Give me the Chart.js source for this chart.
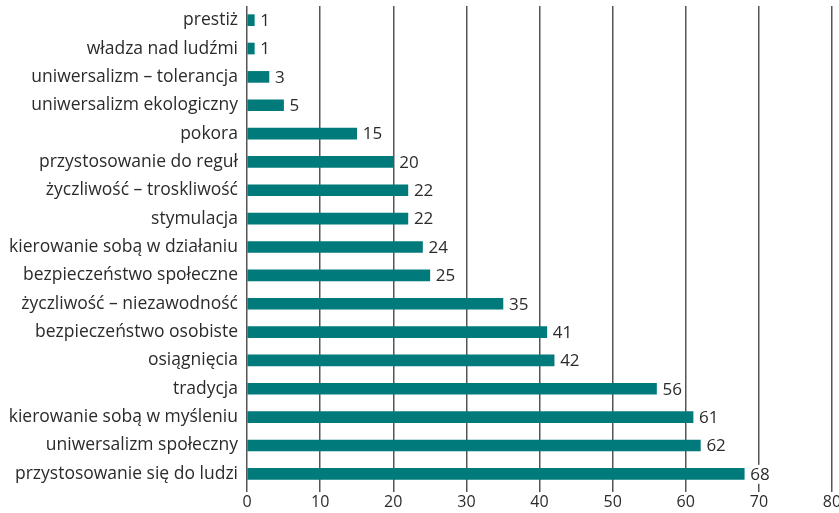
<!DOCTYPE html>
<html>
<head>
<meta charset="utf-8">
<script src="https://cdn.jsdelivr.net/npm/chart.js@4"></script>
<style>
  html, body { margin: 0; padding: 0; background: #fff; }
  #wrap { width: 839px; height: 513px; }
</style>
</head>
<body>
<div id="wrap"><canvas id="chart" width="839" height="513"></canvas></div>
<script>
// ===== Data =====
const categories = [
  "prestiż",
  "władza nad ludźmi",
  "uniwersalizm – tolerancja",
  "uniwersalizm ekologiczny",
  "pokora",
  "przystosowanie do reguł",
  "życzliwość – troskliwość",
  "stymulacja",
  "kierowanie sobą w działaniu",
  "bezpieczeństwo społeczne",
  "życzliwość – niezawodność",
  "bezpieczeństwo osobiste",
  "osiągnięcia",
  "tradycja",
  "kierowanie sobą w myśleniu",
  "uniwersalizm społeczny",
  "przystosowanie się do ludzi"
];
const values = [1, 1, 3, 5, 15, 20, 22, 22, 24, 25, 35, 41, 42, 56, 61, 62, 68];
const xTicks = [0, 10, 20, 30, 40, 50, 60, 70, 80];

const FONT = "'Open Sans', sans-serif";
const TEXT = "#2b2b2b";

// ===== Value labels at the bar ends (white box hides gridlines behind) =====
const valueLabels = {
  id: "valueLabels",
  afterDatasetsDraw(chart) {
    const ctx = chart.ctx;
    const meta = chart.getDatasetMeta(0);
    ctx.save();
    ctx.font = "17px " + FONT;
    ctx.textAlign = "left";
    ctx.textBaseline = "middle";
    meta.data.forEach((bar, i) => {
      const txt = String(values[i]);
      const w = ctx.measureText(txt).width;
      const x = bar.x + 6;
      ctx.fillStyle = "#ffffff";
      ctx.fillRect(x - 1, bar.y - 9, w + 2, 19);
      ctx.fillStyle = TEXT;
      ctx.fillText(txt, x, bar.y + 1);
    });
    ctx.restore();
  }
};

new Chart(document.getElementById("chart"), {
  type: "bar",
  data: {
    labels: categories,
    datasets: [{
      data: values,
      backgroundColor: "#007a7a",
      barThickness: 11
    }]
  },
  options: {
    indexAxis: "y",
    responsive: false,
    animation: false,
    layout: { padding: { top: 6, right: 7, bottom: 0, left: 0 } },
    plugins: {
      legend: { display: false },
      tooltip: { enabled: false }
    },
    scales: {
      x: {
        min: 0,
        max: 80,
        afterBuildTicks: scale => { scale.ticks = xTicks.map(v => ({ value: v })); },
        afterFit: scale => { scale.height = 25; scale.paddingRight = 0; scale.paddingLeft = 0; },
        grid: { color: "#555555", lineWidth: 1.5, drawTicks: true, tickLength: 4 },
        border: { display: false },
        ticks: {
          color: TEXT,
          font: { family: FONT, size: 16 },
          padding: 1,
          maxRotation: 0
        }
      },
      y: {
        afterFit: scale => { scale.width = 247; scale.paddingTop = 0; scale.paddingBottom = 0; },
        grid: { display: false, drawTicks: false },
        border: { display: false },
        ticks: {
          color: TEXT,
          font: { family: FONT, size: 17.5 },
          padding: 9,
          autoSkip: false
        }
      }
    }
  },
  plugins: [valueLabels]
});
</script>
</body>
</html>
